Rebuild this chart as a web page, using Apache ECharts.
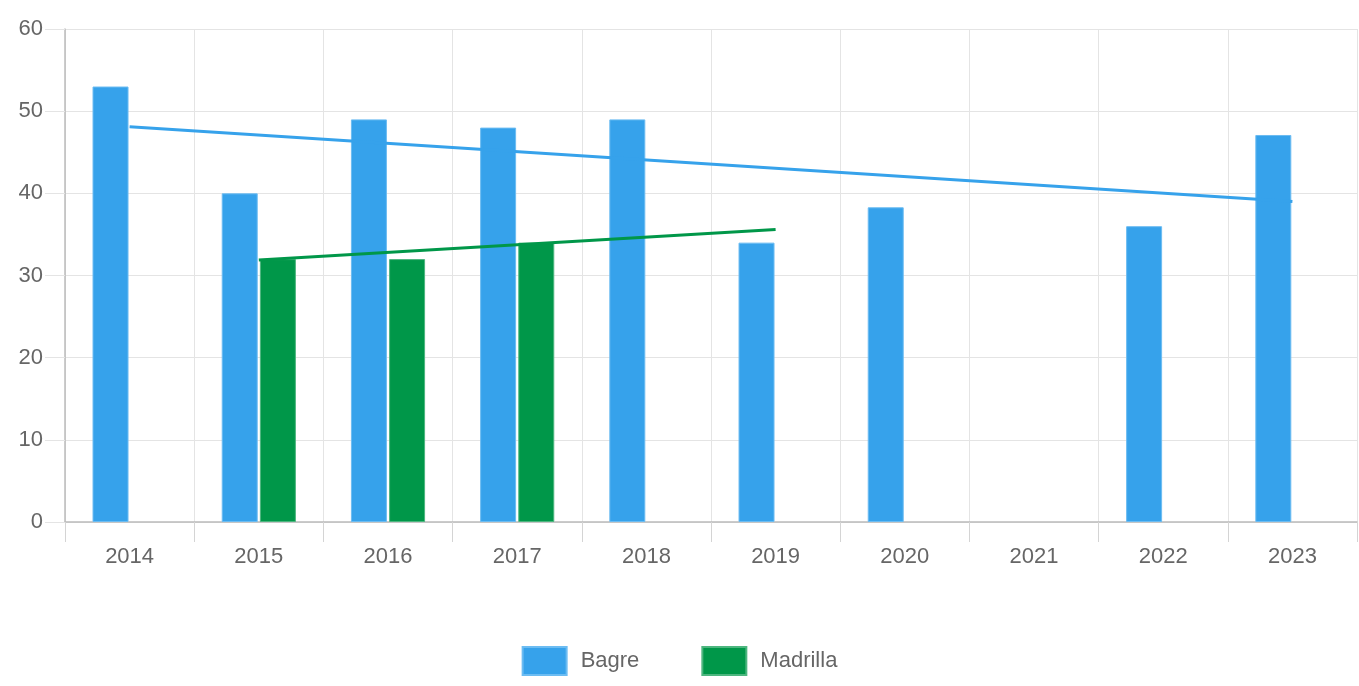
<!DOCTYPE html>
<html>
<head>
<meta charset="utf-8">
<script src="https://cdn.jsdelivr.net/npm/echarts@6/dist/echarts.min.js"></script>
<style>
  html, body { margin: 0; padding: 0; background: #fff; }
  #chart { width: 1359px; height: 686px; }
</style>
</head>
<body>
<div id="chart"></div>
<script>
const years = ['2014', '2015', '2016', '2017', '2018', '2019', '2020', '2021', '2022', '2023']
const bagre = [53, 40, 49, 48, 49, 34, 38.3, null, 36, 47.1]
const madrilla = [null, 32, 32, 34, null, null, null, null, null, null]
// trend lines: only endpoints, joined across the gaps
const bagreTrend = [48.1, null, null, null, null, null, null, null, null, 39.0]
const madrillaTrend = [null, 31.9, null, null, null, 35.6, null, null, null, null]

const blue = '#36a2eb'
const green = '#009749'
const labelStyle = { color: '#666', fontSize: 22, fontFamily: 'Liberation Sans, Arial, sans-serif' }

const chart = echarts.init(document.getElementById('chart'))

chart.setOption({
  animation: false,
  grid: { left: 65, right: 2, top: 29, bottom: 164 },
  legend: {
    data: ['Bagre', 'Madrilla'],
    bottom: 5,
    left: 'center',
    icon: 'rect',
    itemWidth: 44,
    itemHeight: 28,
    itemGap: 62,
    textStyle: { ...labelStyle, padding: [0, 0, 0, 9] }
  },
  xAxis: {
    type: 'category',
    data: years,
    axisLine: { lineStyle: { color: '#bbb', width: 1.5 } },
    axisTick: { show: true, length: 20, lineStyle: { color: '#d4d4d4' } },
    splitLine: { show: true, lineStyle: { color: '#e4e4e4' } },
    axisLabel: { ...labelStyle, margin: 24 }
  },
  yAxis: {
    type: 'value',
    min: 0,
    max: 60,
    interval: 10,
    axisLine: { show: true, lineStyle: { color: '#bbb', width: 1.5 } },
    axisTick: { show: true, length: 20, lineStyle: { color: '#e4e4e4' } },
    splitLine: { lineStyle: { color: '#e4e4e4' } },
    axisLabel: { ...labelStyle, margin: 22 }
  },
  series: [
    {
      name: 'Bagre',
      type: 'bar',
      data: bagre,
      barWidth: 36,
      barGap: '6%',
      itemStyle: { color: blue, borderColor: '#6cbcf2', borderWidth: 1 }
    },
    {
      name: 'Madrilla',
      type: 'bar',
      data: madrilla,
      barWidth: 36,
      itemStyle: { color: green, borderColor: '#4db67f', borderWidth: 1 }
    },
    {
      name: 'Bagre trend',
      type: 'line',
      data: bagreTrend,
      connectNulls: true,
      symbol: 'none',
      z: 5,
      lineStyle: { color: blue, width: 3 }
    },
    {
      name: 'Madrilla trend',
      type: 'line',
      data: madrillaTrend,
      connectNulls: true,
      symbol: 'none',
      z: 5,
      lineStyle: { color: green, width: 3 }
    }
  ]
})
</script>
</body>
</html>
